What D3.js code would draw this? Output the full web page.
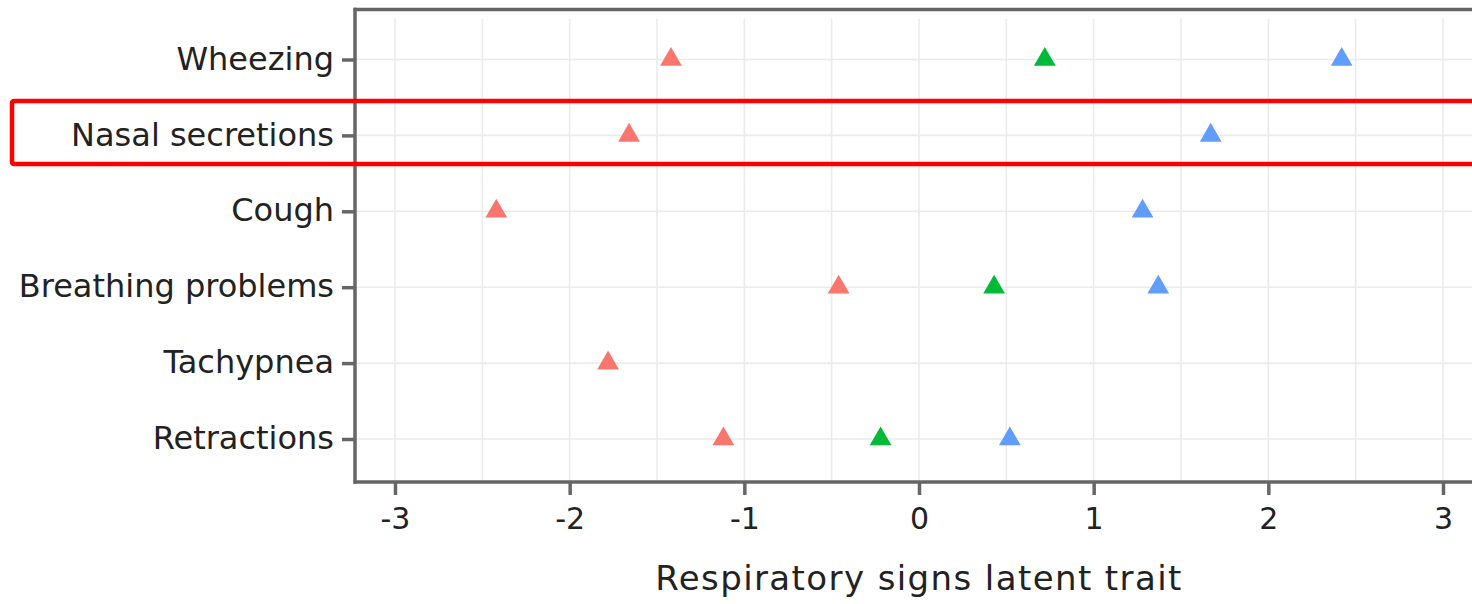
<!DOCTYPE html>
<html>
<head>
<meta charset="utf-8">
<script src="https://cdn.jsdelivr.net/npm/d3@7"></script>
<style>
body{margin:0;background:#fff;}
svg{display:block;}
</style>
</head>
<body>
<svg id="svg" width="1472" height="604"></svg>
<script>
// categories top to bottom
var signs=['Wheezing','Nasal secretions','Cough','Breathing problems','Tachypnea','Retractions'];
// threshold estimates per sign (null = not present)
var lowVals=[-1.42,-1.66,-2.42,-0.46,-1.78,-1.12];
var midVals=[0.72,null,null,0.43,null,-0.22];
var highVals=[2.42,1.67,1.28,1.37,null,0.52];
var xticks=[-3,-2,-1,0,1,2,3];
var xminor=[-2.5,-1.5,-0.5,0.5,1.5,2.5];
var highlighted='Nasal secretions';

var seriesColors=['#F8766D','#00BA38','#619CFF'];
var series=[lowVals,midVals,highVals];

var svg=d3.select('#svg');

var xscale=d3.scaleLinear().domain([-3,3]).range([395,1443]);
var yscale=d3.scalePoint().domain(signs).range([59.5,439]);

var panel={left:355,top:19,bottom:482,right:1480};
var axisColor='#666';
var font='"DejaVu Sans", Verdana, sans-serif';

// grid
var grid=svg.append('g');
grid.selectAll('line.v').data(xticks.concat(xminor)).enter()
.append('line')
.attr('x1',function(d){return xscale(d);})
.attr('x2',function(d){return xscale(d);})
.attr('y1',panel.top).attr('y2',panel.bottom)
.attr('stroke','#ebebeb').attr('stroke-width',1.6);
grid.selectAll('line.h').data(signs).enter()
.append('line')
.attr('x1',panel.left).attr('x2',panel.right)
.attr('y1',function(d){return yscale(d);})
.attr('y2',function(d){return yscale(d);})
.attr('stroke','#ebebeb').attr('stroke-width',1.6);

// points
var pts=[];
signs.forEach(function(s,i){
	series.forEach(function(vals,k){
		if(vals[i]!==null) pts.push({sign:s,v:vals[i],k:k});
	});
});
var tri=d3.symbol().type(d3.symbolTriangle).size(205);
svg.append('g').selectAll('path').data(pts).enter()
.append('path')
.attr('d',tri)
.attr('transform',function(d){return 'translate('+xscale(d.v)+','+yscale(d.sign)+')';})
.attr('fill',function(d){return seriesColors[d.k];});

// top line
svg.append('line')
.attr('x1',panel.left-1.5).attr('x2',panel.right)
.attr('y1',9.5).attr('y2',9.5)
.attr('stroke',axisColor).attr('stroke-width',3.5);

// x axis
var xaxis=svg.append('g')
.attr('transform','translate(0,'+panel.bottom+')')
.call(d3.axisBottom(xscale).tickValues(xticks)
	.tickFormat(function(d){return String(d);})
	.tickSize(13).tickPadding(13).tickSizeOuter(0));
xaxis.select('.domain').attr('d','M'+(panel.left-1.5)+',0H'+panel.right)
.attr('stroke',axisColor).attr('stroke-width',3.5);
xaxis.selectAll('.tick line').attr('stroke',axisColor).attr('stroke-width',3.5);
xaxis.selectAll('.tick text').attr('fill','#222').style('font-family',font).style('font-size','30px');

// y axis
var yaxis=svg.append('g')
.attr('transform','translate('+panel.left+',0)')
.call(d3.axisLeft(yscale).tickSize(13).tickPadding(8).tickSizeOuter(0));
yaxis.select('.domain').attr('d','M0,'+(9.5-1.7)+'V'+(panel.bottom+1.7))
.attr('stroke',axisColor).attr('stroke-width',3.5);
yaxis.selectAll('.tick line').attr('stroke',axisColor).attr('stroke-width',3.5);
yaxis.selectAll('.tick text').attr('fill','#222').attr('dy','0.3em')
.style('font-family',font).style('font-size','32px');

// axis title
svg.append('text')
.attr('x',919).attr('y',590)
.attr('text-anchor','middle')
.attr('fill','#222')
.style('font-family',font)
.style('font-size','34px')
.style('letter-spacing','1.4px')
.text('Respiratory signs latent trait');

// highlight box
svg.append('rect')
.attr('x',12).attr('y',yscale(highlighted)-34.5)
.attr('width',1480).attr('height',63)
.attr('rx',2)
.attr('fill','none').attr('stroke','#ff0000').attr('stroke-width',4.5);
</script>
</body>
</html>
